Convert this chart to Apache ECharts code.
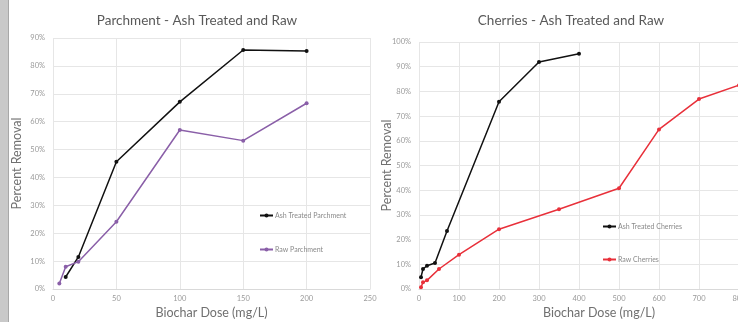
<!DOCTYPE html>
<html><head><meta charset="utf-8">
<script src="https://cdn.jsdelivr.net/npm/echarts@6/dist/echarts.min.js"></script>
<style>html,body{margin:0;padding:0;background:#fff}#c{width:738px;height:322px}</style>
</head><body><div id="c"></div>
<script>
// Parchment chart data (dose mg/L, removal fraction)
var parchAshX = [10, 20, 50, 100, 150, 200];
var parchAshY = [0.043, 0.115, 0.456, 0.671, 0.857, 0.853];
var parchRawX = [5, 10, 20, 50, 100, 150, 200];
var parchRawY = [0.020, 0.080, 0.098, 0.241, 0.570, 0.532, 0.666];
// Cherries chart data
var cherAshX = [5, 10, 20, 40, 70, 200, 300, 400];
var cherAshY = [0.048, 0.081, 0.094, 0.105, 0.235, 0.758, 0.919, 0.952];
var cherRawX = [5, 10, 20, 50, 100, 200, 350, 500, 600, 700, 800];
var cherRawY = [0.007, 0.027, 0.035, 0.081, 0.139, 0.242, 0.323, 0.408, 0.646, 0.769, 0.825];

var titles = ['Parchment - Ash Treated and Raw', 'Cherries - Ash Treated and Raw'];
var seriesNames = [['Ash Treated Parchment', 'Raw Parchment'], ['Ash Treated Cherries', 'Raw Cherries']];
var xTitle = 'Biochar Dose (mg/L)';
var yTitle = 'Percent Removal';

function pairs(xs, ys) { return xs.map(function (x, i) { return [x, ys[i]]; }); }

var FONT = 'Lato, "Open Sans", sans-serif';
var gridColor = '#e6e6e6';

function xAxis(idx, max, interval) {
  return {
    type: 'value', gridIndex: idx, min: 0, max: max, interval: interval,
    name: xTitle, nameLocation: 'middle', nameGap: 17, nameMoveOverlap: false,
    nameTextStyle: { fontFamily: FONT, fontSize: 12.5, color: '#707070' },
    axisLine: { show: true, lineStyle: { color: '#d9d9d9' } },
    axisTick: { show: false },
    axisLabel: { fontFamily: FONT, fontSize: 7.5, color: '#9a9a9a', margin: 6 },
    splitLine: { show: true, lineStyle: { color: gridColor } }
  };
}
function yAxis(idx, max, gap) {
  return {
    type: 'value', gridIndex: idx, min: 0, max: max, interval: 0.1,
    name: yTitle, nameLocation: 'middle', nameGap: gap, nameMoveOverlap: false,
    nameTextStyle: { fontFamily: FONT, fontSize: 12.5, color: '#707070' },
    axisLine: { show: false }, axisTick: { show: false },
    axisLabel: { fontFamily: FONT, fontSize: 7.5, color: '#9a9a9a', margin: 8,
      formatter: function (v) { return Math.round(v * 100) + '%'; } },
    splitLine: { show: true, lineStyle: { color: gridColor } }
  };
}
function line(name, data, color, xi) {
  return {
    name: name, type: 'line', xAxisIndex: xi, yAxisIndex: xi, data: data,
    symbol: 'circle', symbolSize: 4, showSymbol: true,
    lineStyle: { color: color, width: 1.5 }, itemStyle: { color: color },
    emphasis: { disabled: true }
  };
}

var chart = echarts.init(document.getElementById('c'));
chart.setOption({
  backgroundColor: '#ffffff',
  animation: false,
  title: [
    { text: titles[0], left: 192, top: 9, textAlign: 'center',
      textStyle: { fontFamily: FONT, fontSize: 13.5, fontWeight: 'normal', color: '#595959' } },
    { text: titles[1], left: 566, top: 9, textAlign: 'center',
      textStyle: { fontFamily: FONT, fontSize: 13.5, fontWeight: 'normal', color: '#595959' } }
  ],
  graphic: [
    { type: 'rect', shape: { x: 0, y: 0, width: 8, height: 322 }, style: { fill: '#c9c9c9' } },
    { type: 'rect', shape: { x: 8, y: 0, width: 1, height: 322 }, style: { fill: '#a8a8a8' } }
  ],
  legend: [
    { data: seriesNames[0], orient: 'vertical', left: 254, top: 207, itemGap: 27,
      itemWidth: 13, itemHeight: 5,
      textStyle: { fontFamily: FONT, fontSize: 7, color: '#8a8a8a', padding: [0, 0, 0, -3] } },
    { data: seriesNames[1], orient: 'vertical', left: 597, top: 218, itemGap: 26,
      itemWidth: 13, itemHeight: 5,
      textStyle: { fontFamily: FONT, fontSize: 7, color: '#8a8a8a', padding: [0, 0, 0, -3] } }
  ],
  grid: [
    { left: 53, top: 38, width: 317, height: 251, outerBoundsMode: 'none', containLabel: false },
    { left: 419, top: 42, width: 360, height: 247, outerBoundsMode: 'none', containLabel: false }
  ],
  xAxis: [xAxis(0, 250, 50), xAxis(1, 900, 100)],
  yAxis: [yAxis(0, 0.9, 30), yAxis(1, 1.0, 26)],
  series: [
    line(seriesNames[0][0], pairs(parchAshX, parchAshY), '#111111', 0),
    line(seriesNames[0][1], pairs(parchRawX, parchRawY), '#8a5fa8', 0),
    line(seriesNames[1][0], pairs(cherAshX, cherAshY), '#111111', 1),
    line(seriesNames[1][1], pairs(cherRawX, cherRawY), '#e8303a', 1)
  ]
});
</script></body></html>
